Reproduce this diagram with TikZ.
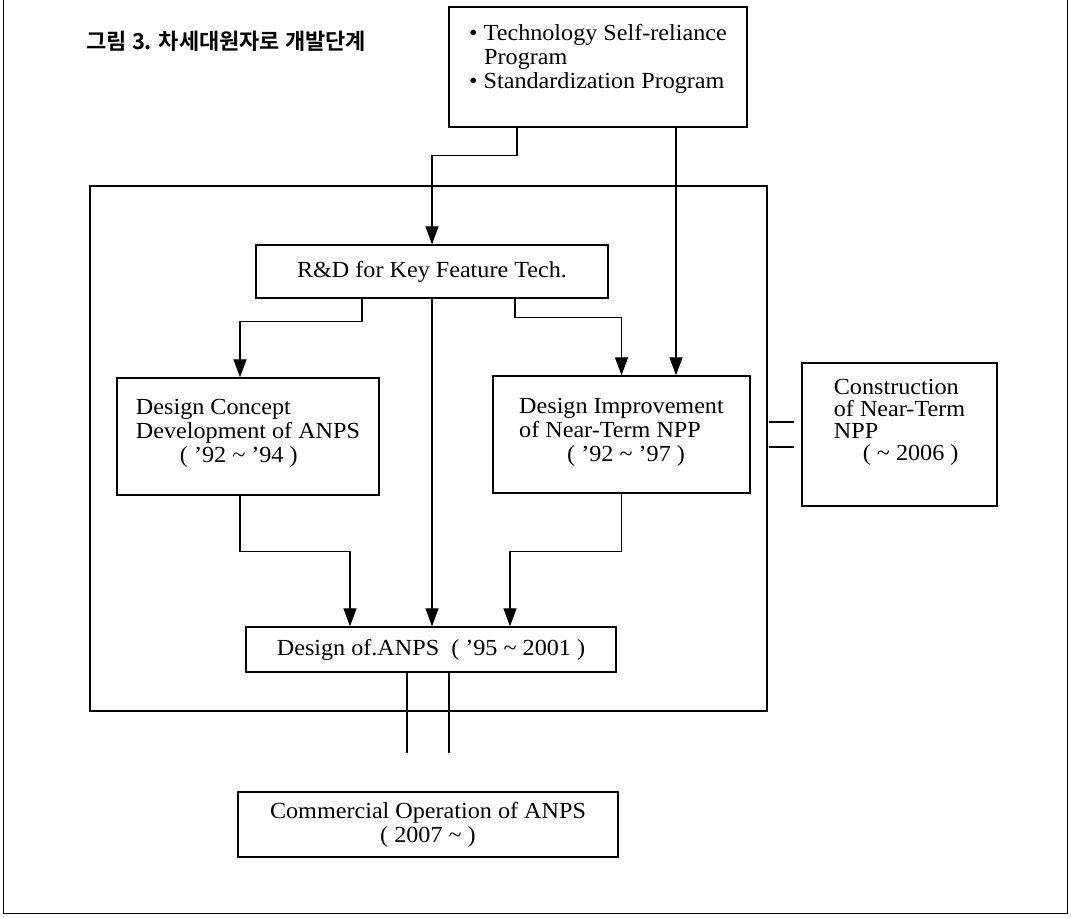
\documentclass[tikz,border=0pt]{standalone}
\usepackage{fontspec}
\setmainfont{Liberation Serif}[FakeStretch=1.05]
\newfontfamily\krfont{Noto Sans CJK KR Bold}
\usetikzlibrary{arrows.meta}
\newcommand{\yrsep}{\textasciitilde}
\tikzset{%
stagebox/.style={draw,line width=1.4pt,inner sep=0pt},
framebox/.style={draw,line width=1.6pt,inner sep=0pt},
flowline/.style={line width=1.3pt},
flowarrow/.style={flowline,-{Triangle[length=18pt,width=13pt]}},
pageedge/.style={line width=1pt},
titlefont/.style={font=\krfont\fontsize{22}{24}\selectfont}
}

\begin{document}
\begin{tikzpicture}[x=1pt,y=-1pt,font=\fontsize{23}{24}\selectfont]

    \useasboundingbox (0,0) rectangle (1071,918);

    % page edge
    \draw[pageedge] (3,0) |- (1067,913) -- (1067,0);

    \node[titlefont,anchor=west] (title) at (83,41) {그림 3. 차세대원자로 개발단계};

    \node[framebox,minimum width=677pt,minimum height=525pt] (frame) at (428.5,448.5) {};

    \node[stagebox,minimum width=298pt,minimum height=120pt,align=left] (tech) at (598,67)
        {\textbullet\ Technology Self-reliance\\ \hspace*{15pt}Program\\ \textbullet\ Standardization Program\\[-2pt]\mbox{}};
    \node[stagebox,minimum width=352pt,minimum height=53pt] (rnd) at (432,271.5) {R\&D for Key Feature Tech.};
    \node[stagebox,minimum width=262pt,minimum height=117pt,align=left] (concept) at (248,436.5)
        {Design Concept\\ Development of ANPS\\ \hspace*{44pt}( '92 \yrsep{} '94 )\\[-13pt]\mbox{}};
    \node[stagebox,minimum width=257pt,minimum height=117pt,align=left] (improve) at (621.5,434.5)
        {Design Improvement\\ of Near-Term NPP\\ \hspace*{48pt}( '92 \yrsep{} '97 )\\[-15pt]\mbox{}};
    \node[stagebox,minimum width=195pt,minimum height=143pt,align=left,
          font=\fontsize{23}{22}\selectfont] (constr) at (899.5,434.5)
        {Construction\\ of Near-Term\\ NPP\\ \hspace*{29pt}( \yrsep{} 2006 )\\[8pt]\mbox{}};
    \node[stagebox,minimum width=370pt,minimum height=45pt] (anps) at (431,649.5) {Design of.ANPS\ \ ( '95 \yrsep{} 2001 )};
    \node[stagebox,minimum width=380pt,minimum height=65pt,align=center] (comm) at (428,824.5)
        {Commercial Operation of ANPS\\ ( 2007 \yrsep{} )};

    % programs into the inner frame
    \draw[flowarrow] ([xshift=-81pt]tech.south) -- ++(0,28) -| (rnd.north);
    \draw[flowarrow] ([xshift=78pt]tech.south) -- ([xshift=78pt]tech.south |- improve.north);

    % R&D branches
    \draw[flowarrow] ([xshift=-70pt]rnd.south) -- ++(0,23) -| ([xshift=-8pt]concept.north);
    \draw[flowarrow] ([xshift=83pt]rnd.south) -- ++(0,19) -| (improve.north);
    \draw[flowarrow] (rnd.south) -- (rnd.south |- anps.north);

    % into design of ANPS
    \draw[flowarrow] ([xshift=-8pt]concept.south) -- ++(0,56) -| ([xshift=-81pt]anps.north);
    \draw[flowarrow] (improve.south) -- ++(0,58) -| ([xshift=79pt]anps.north);

    % double links
    \draw[flowline] ([xshift=-24pt]anps.south) -- ++(0,80);
    \draw[flowline] ([xshift=18pt]anps.south) -- ++(0,80);
    \draw[flowline] ([xshift=-7pt,yshift=12.5pt]constr.west) -- ++(-25,0);
    \draw[flowline] ([xshift=-7pt,yshift=-12.5pt]constr.west) -- ++(-25,0);

\end{tikzpicture}
\end{document}
